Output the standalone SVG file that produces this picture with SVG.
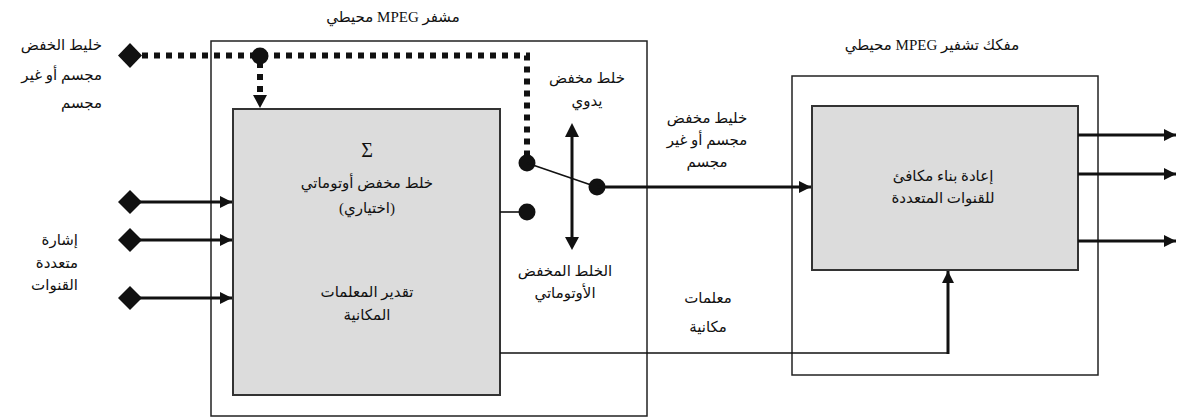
<svg xmlns="http://www.w3.org/2000/svg" width="1177" height="418" viewBox="0 0 1177 418">
<style>
  .outer{fill:#fff;stroke:#222;stroke-width:1.5}
  .inner{fill:#dcdcdc;stroke:#333;stroke-width:2}
  .t{font-family:"Liberation Serif","DejaVu Sans",serif;font-size:15px;fill:#111;direction:rtl;text-anchor:middle}
  .tr{font-family:"Liberation Serif","DejaVu Sans",serif;font-size:15px;fill:#111;direction:rtl;text-anchor:start}
  .thick{stroke:#111;stroke-width:3;fill:none}
  .thin{stroke:#111;stroke-width:1.6;fill:none}
  .dot{stroke:#111;stroke-width:6;stroke-dasharray:6 6;fill:none}
  .dia{fill:#111}
</style>
<defs>
  <marker id="ah" viewBox="0 0 10 10" refX="10" refY="5" markerWidth="4" markerHeight="4" orient="auto" markerUnits="strokeWidth">
    <path d="M0,0 L10,5 L0,10 z" fill="#111"/>
  </marker>
</defs>

<g id="encoder">
  <rect class="outer" x="211" y="41" width="436" height="375"/>
  <text class="t" x="393" y="22">مشفر MPEG محيطي</text>
</g>
<g id="encoder-core">
  <rect class="inner" x="233" y="109" width="267" height="286"/>
  <text class="t" x="367" y="157" style="direction:ltr;font-size:20px">Σ</text>
  <text class="t" x="367" y="188">خلط مخفض أوتوماتي</text>
  <text class="t" x="367" y="213">(اختياري)</text>
  <text class="t" x="367" y="297">تقدير المعلمات</text>
  <text class="t" x="367" y="320">المكانية</text>
</g>
<g id="decoder">
  <rect class="outer" x="792" y="76" width="306" height="299"/>
  <text class="t" x="932" y="50">مفكك تشفير MPEG محيطي</text>
</g>
<g id="decoder-core">
  <rect class="inner" x="812" y="106" width="266" height="164"/>
  <text class="t" x="943" y="181">إعادة بناء مكافئ</text>
  <text class="t" x="943" y="203">للقنوات المتعددة</text>
</g>

<g id="labels">
  <text class="tr" x="102" y="50">خليط الخفض</text>
  <text class="tr" x="102" y="80">مجسم أو غير</text>
  <text class="tr" x="102" y="108">مجسم</text>
  <text class="tr" x="78" y="245">إشارة</text>
  <text class="tr" x="78" y="268">متعددة</text>
  <text class="tr" x="78" y="290">القنوات</text>
  <text class="t" x="587" y="83">خلط مخفض</text>
  <text class="t" x="587" y="106">يدوي</text>
  <text class="t" x="707" y="123">خليط مخفض</text>
  <text class="t" x="707" y="145">مجسم أو غير</text>
  <text class="t" x="707" y="167">مجسم</text>
  <text class="t" x="565" y="276">الخلط المخفض</text>
  <text class="t" x="565" y="298">الأوتوماتي</text>
  <text class="t" x="708" y="303">معلمات</text>
  <text class="t" x="708" y="332">مكانية</text>
</g>

<g id="connectors">
  <path class="dot" d="M142,55.5 H527 V156"/>
  <path class="dot" d="M260,62 V96"/>
  <path d="M253,95 L267,95 L260,108 z" fill="#111"/>
  <circle cx="260" cy="56" r="8.5" fill="#111"/>
  <path class="dia" d="M130,43 L142,55.5 L130,68 L118,55.5 z"/>

  <path class="dia" d="M130,190 L142,202 L130,214 L118,202 z"/>
  <path class="dia" d="M130,228 L142,240 L130,252 L118,240 z"/>
  <path class="dia" d="M130,286 L142,298 L130,310 L118,298 z"/>
  <line class="thick" x1="140" y1="202" x2="232" y2="202" marker-end="url(#ah)"/>
  <line class="thick" x1="140" y1="240" x2="232" y2="240" marker-end="url(#ah)"/>
  <line class="thick" x1="140" y1="298" x2="232" y2="298" marker-end="url(#ah)"/>

  <line class="thin" x1="500" y1="212" x2="527" y2="212"/>
  <circle cx="527" cy="212" r="8.5" fill="#111"/>
  <circle cx="527" cy="163" r="8.5" fill="#111"/>
  <line class="thin" stroke-width="2" x1="527" y1="163" x2="597" y2="187"/>
  <circle cx="597" cy="187" r="8.5" fill="#111"/>
  <line class="thick" x1="572" y1="136" x2="572" y2="238"/>
  <path d="M565,137 L579,137 L572,123 z" fill="#111"/>
  <path d="M565,237 L579,237 L572,250 z" fill="#111"/>

  <line class="thick" x1="597" y1="187" x2="811" y2="187" marker-end="url(#ah)"/>

  <path class="thin" d="M500,353 H948"/>
  <line class="thick" x1="948" y1="354" x2="948" y2="271" marker-end="url(#ah)"/>

  <line class="thick" x1="1078" y1="135" x2="1176" y2="135" marker-end="url(#ah)"/>
  <line class="thick" x1="1078" y1="174" x2="1176" y2="174" marker-end="url(#ah)"/>
  <line class="thick" x1="1078" y1="241" x2="1176" y2="241" marker-end="url(#ah)"/>
</g>
</svg>
